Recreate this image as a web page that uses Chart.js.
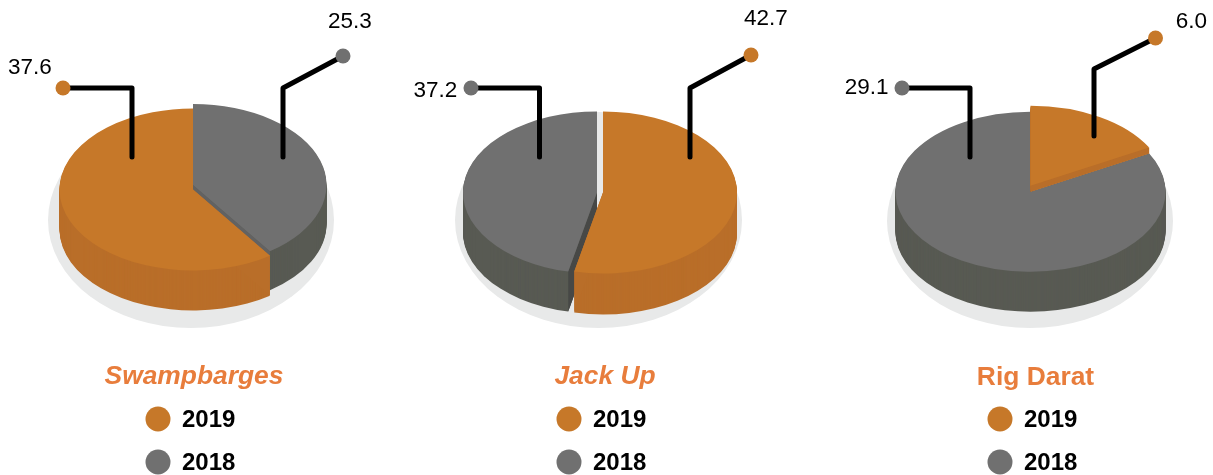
<!DOCTYPE html>
<html>
<head>
<meta charset="utf-8">
<script src="https://cdn.jsdelivr.net/npm/chart.js@4"></script>
<style>
html,body{margin:0;padding:0;background:#fff;}
body{position:relative;width:1213px;height:475px;overflow:hidden;font-family:"Liberation Sans",Arial,sans-serif;}
canvas{position:absolute;top:0;}
.title{position:absolute;font-size:26.4px;font-weight:bold;color:#E87D3C;white-space:nowrap;transform:translate(-50%,-50%);line-height:30px;}
.dot{position:absolute;width:25px;height:25px;border-radius:50%;transform:translate(-50%,-50%);}
.key{position:absolute;font-size:24px;font-weight:bold;color:#000;line-height:28px;transform:translateY(-50%);}
</style>
</head>
<body>
<script>
const categories = ['2019', '2018'];
const swampbarges = [37.6, 25.3];
const jackUp = [42.7, 37.2];
const rigDarat = [6.0, 29.1];

const COLORS = { top: ['#C67829', '#707070'], side: ['#B96E29', '#585A53'] };

const panels = [
  { name: 'Swampbarges', italic: true, values: swampbarges, left: 0, rotateAfterSecond: true,
    cx: 193, cy: 189.5, rx: 133.5, ry: 81, depth: [40, 39], shift: [[0, 0], [0, -4.5]], cut: ['#B96E29', '#626262'],
    shadow: [191, 220, 143, 108], titleX: 194, titleY: 375, keyX: 157.5, textX: 182,
    leaders: [
      { dot: [63, 88], elbow: [132, 88], end: [132, 157], label: [8, 67.5] },
      { dot: [343, 56], elbow: [283, 88], end: [283, 157], label: [328, 21.5] }
    ] },
  { name: 'Jack Up', italic: true, values: jackUp, left: 404,
    cx: 600, cy: 192.5, rx: 134, ry: 81, depth: [41, 40], shift: [[3, 0], [-3, 0]], cut: ['#B96E29', '#474846'],
    shadow: [598.5, 220, 143.5, 108], titleX: 605, titleY: 375, keyX: 569, textX: 593,
    leaders: [
      { dot: [751, 55], elbow: [690, 88], end: [690, 157], label: [744, 18.5] },
      { dot: [471, 88], elbow: [539.5, 88], end: [539.5, 157], label: [413.5, 91] }
    ] },
  { name: 'Rig Darat', italic: false, values: rigDarat, left: 808,
    cx: 1030.5, cy: 191.7, rx: 135, ry: 80, depth: [6, 40], shift: [[0, -6], [0, 0]], cut: ['#B96E29', '#585A53'],
    shadow: [1030, 221, 143, 107], titleX: 1035.5, titleY: 376, keyX: 1000, textX: 1024,
    leaders: [
      { dot: [1155.5, 38], elbow: [1094, 69], end: [1094, 136], label: [1175.7, 21.5] },
      { dot: [902, 88], elbow: [970, 88], end: [970, 157], label: [844.7, 88] }
    ] }
];

const W = 405, H = 475;

function sector(ctx, x, y, rx, ry, a0, a1) {
  ctx.beginPath();
  ctx.moveTo(x, y);
  ctx.ellipse(x, y, rx, ry, 0, a0, a1);
  ctx.closePath();
}

const pie3d = {
  id: 'pie3d',
  beforeDatasetsDraw(chart, args, opts) {
    const p = opts.panel, ctx = chart.ctx, arcs = chart.getDatasetMeta(0).data;
    const tilt = p.ry / p.rx;
    ctx.save();
    // ground shadow
    ctx.fillStyle = '#E8E9E9';
    ctx.beginPath();
    ctx.ellipse(p.shadow[0] - p.left, p.shadow[1], p.shadow[2], p.shadow[3], 0, 0, Math.PI * 2);
    ctx.fill();
    // back slice (2018) first, front slice (2019) on top of it
    for (let i = arcs.length - 1; i >= 0; i--) {
      const arc = arcs[i], r = arc.outerRadius, ry = r * tilt;
      const x = arc.x + p.shift[i][0], y = arc.y + p.shift[i][1];
      // rim
      ctx.fillStyle = COLORS.side[i];
      for (let k = p.depth[i]; k >= 1; k--) {
        sector(ctx, x, y + k, r, ry, arc.startAngle, arc.endAngle);
        ctx.fill();
      }
      // cut faces
      ctx.fillStyle = p.cut[i];
      [arc.startAngle, arc.endAngle].forEach(a => {
        const ex = x + r * Math.cos(a), ey = y + ry * Math.sin(a);
        ctx.beginPath();
        ctx.moveTo(x, y);
        ctx.lineTo(ex, ey);
        ctx.lineTo(ex, ey + p.depth[i]);
        ctx.lineTo(x, y + p.depth[i]);
        ctx.closePath();
        ctx.fill();
      });
      // top face, drawn by the library's own arc element
      ctx.save();
      ctx.translate(x, y);
      ctx.scale(1, tilt);
      ctx.translate(-arc.x, -arc.y);
      arc.draw(ctx);
      ctx.restore();
    }
    ctx.restore();
    return false;
  },
  afterDraw(chart, args, opts) {
    const p = opts.panel, ctx = chart.ctx, ds = chart.data.datasets[0];
    ctx.save();
    p.leaders.forEach((l, i) => {
      ctx.strokeStyle = '#000';
      ctx.lineWidth = 5;
      ctx.lineCap = 'round';
      ctx.lineJoin = 'round';
      ctx.beginPath();
      ctx.moveTo(l.dot[0] - p.left, l.dot[1]);
      ctx.lineTo(l.elbow[0] - p.left, l.elbow[1]);
      ctx.lineTo(l.end[0] - p.left, l.end[1]);
      ctx.stroke();
      ctx.fillStyle = COLORS.top[i];
      ctx.beginPath();
      ctx.arc(l.dot[0] - p.left, l.dot[1], 7.5, 0, Math.PI * 2);
      ctx.fill();
      ctx.fillStyle = '#000';
      ctx.font = '22.5px "Liberation Sans", Arial, sans-serif';
      ctx.textAlign = 'left';
      ctx.textBaseline = 'middle';
      ctx.fillText(ds.data[i].toFixed(1), l.label[0] - p.left, l.label[1]);
    });
    ctx.restore();
  }
};

panels.forEach(p => {
  const canvas = document.createElement('canvas');
  canvas.width = W; canvas.height = H;
  canvas.style.left = p.left + 'px';
  canvas.style.width = W + 'px';
  canvas.style.height = H + 'px';
  document.body.appendChild(canvas);
  const lx = p.cx - p.left;
  const rotation = p.rotateAfterSecond ? p.values[1] / (p.values[0] + p.values[1]) * 360 : 0;
  new Chart(canvas, {
    type: 'pie',
    data: { labels: categories, datasets: [{ data: p.values, backgroundColor: COLORS.top, borderWidth: 0, hoverOffset: 0 }] },
    options: {
      responsive: false,
      animation: false,
      rotation: rotation,
      layout: { padding: { left: lx - p.rx, right: W - lx - p.rx, top: p.cy - p.rx, bottom: H - p.cy - p.rx } },
      plugins: { legend: { display: false }, tooltip: { enabled: false }, pie3d: { panel: p } }
    },
    plugins: [pie3d]
  });

  const t = document.createElement('div');
  t.className = 'title';
  t.textContent = p.name;
  t.style.left = p.titleX + 'px';
  t.style.top = p.titleY + 'px';
  t.style.fontStyle = p.italic ? 'italic' : 'normal';
  document.body.appendChild(t);

  categories.forEach((c, i) => {
    const y = 419 + i * 43;
    const d = document.createElement('div');
    d.className = 'dot';
    d.style.left = p.keyX + 'px';
    d.style.top = y + 'px';
    d.style.background = COLORS.top[i];
    document.body.appendChild(d);
    const k = document.createElement('div');
    k.className = 'key';
    k.textContent = c;
    k.style.left = p.textX + 'px';
    k.style.top = y + 'px';
    document.body.appendChild(k);
  });
});
</script>
</body>
</html>
